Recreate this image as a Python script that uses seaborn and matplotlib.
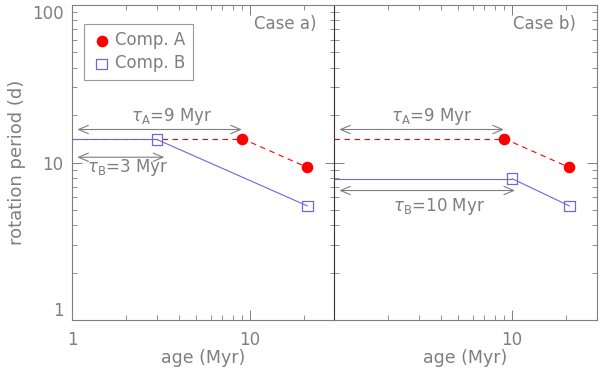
import matplotlib
matplotlib.use("Agg")
import matplotlib.pyplot as plt
import seaborn as sns
import pandas as pd
import numpy as np
from matplotlib.ticker import LogLocator, FixedLocator, NullFormatter, FixedFormatter

sns.set_style("ticks")
plt.rcParams['font.family'] = ['DejaVu Sans']

# Data
cases = ["Case a)", "Case b)"]
age_A = [[9.0, 21.0], [9.0, 21.0]]
period_A = [[14.2, 9.3], [14.2, 9.3]]
age_B = [[3.0, 21.0], [10.0, 21.0]]
period_B = [[14.0, 5.3], [7.9, 5.3]]
tau_A = [9, 9]
tau_B = [3, 10]
xticks = [1, 10]
yticks = [1, 10, 100]

GRAY = "#7f7f7f"
RED = "#ff0000"
BLUE = "#6a6ad8"
FS = 12

fig = plt.figure(figsize=(6.0, 3.74), dpi=100)
W, H = 600, 374
axes = []
for i in range(2):
    x0 = 72 if i == 0 else 334
    ax = fig.add_axes([x0 / W, 1 - 320 / H, 263 / W, 315 / H])
    axes.append(ax)

for i, ax in enumerate(axes):
    ax.set_xscale("log")
    ax.set_yscale("log")
    dA = pd.DataFrame({"age": age_A[i], "period": period_A[i]})
    dB = pd.DataFrame({"age": age_B[i], "period": period_B[i]})
    # horizontal tracks from the left edge
    ax.hlines(dA["period"].iloc[0], 1, dA["age"].iloc[0], colors=RED, lw=0.8,
              linestyles=(0, (5, 4)), zorder=3)
    ax.hlines(dB["period"].iloc[0], 1, dB["age"].iloc[0], colors=BLUE, lw=0.8, zorder=3)
    sns.lineplot(data=dA, x="age", y="period", ax=ax, color=RED, lw=0.8,
                 linestyle=(0, (5, 4)), sort=False)
    sns.lineplot(data=dB, x="age", y="period", ax=ax, color=BLUE, lw=0.8, sort=False)
    sns.scatterplot(data=dA, x="age", y="period", ax=ax, color=RED, s=70,
                    marker="o", edgecolor=RED, linewidth=0, zorder=5,
                    label="Comp. A" if i == 0 else None)
    ax.scatter(dB["age"], dB["period"], s=60, marker="s", facecolor="none",
               edgecolor=BLUE, linewidth=0.9, zorder=5,
               label="Comp. B" if i == 0 else None)

    ax.set_xlim(1, 30)
    ax.set_ylim(1, 100)

    # arrows
    arrow_kw = dict(arrowstyle="<->,head_length=0.7,head_width=0.3", color=GRAY, lw=0.8,
                    shrinkA=0, shrinkB=0)
    ya = 16.2
    ax.annotate("", xy=(tau_A[i] * 1.0, ya), xytext=(1.07, ya), arrowprops=arrow_kw)
    ax.text(3.65 if i == 0 else 3.55, 19.6,
            r"$\tau_{\mathrm{A}}$=" + f"{tau_A[i]} Myr", color=GRAY,
            fontsize=FS, ha="center", va="center")
    if i == 0:
        yb = 10.8
        ax.annotate("", xy=(3.3, yb), xytext=(1.07, yb), arrowprops=arrow_kw)
        ax.text(2.06, 9.3, r"$\tau_{\mathrm{B}}$=" + f"{tau_B[i]} Myr", color=GRAY,
                fontsize=FS, ha="center", va="center")
    else:
        yb = 6.64
        ax.annotate("", xy=(10.4, yb), xytext=(1.07, yb), arrowprops=arrow_kw)
        ax.text(3.9, 5.25, r"$\tau_{\mathrm{B}}$=" + f"{tau_B[i]} Myr", color=GRAY,
                fontsize=FS, ha="center", va="center")

    ax.text(0.93 if i == 0 else 0.92, 0.94, cases[i], transform=ax.transAxes,
            color=GRAY, fontsize=FS, ha="right", va="center")

    ax.xaxis.set_major_locator(FixedLocator(xticks))
    ax.xaxis.set_minor_locator(LogLocator(base=10, subs=np.arange(2, 10)))
    ax.xaxis.set_minor_formatter(NullFormatter())
    ax.yaxis.set_major_locator(FixedLocator(yticks))
    ax.yaxis.set_minor_locator(LogLocator(base=10, subs=np.arange(2, 10)))
    ax.yaxis.set_minor_formatter(NullFormatter())
    ax.tick_params(which="both", direction="in", top=True, right=True,
                   colors=GRAY, labelcolor=GRAY, labelsize=FS)
    ax.tick_params(which="major", length=7, width=0.7)
    ax.tick_params(axis="x", which="major", pad=8)
    ax.tick_params(axis="y", which="major", pad=6)
    ax.tick_params(which="minor", length=3.5, width=0.6)
    for s in ax.spines.values():
        s.set_color(GRAY)
        s.set_linewidth(0.8)
    ax.set_xlabel("age (Myr)", color=GRAY, fontsize=12.5, labelpad=0)
    if i == 0:
        ax.xaxis.set_major_formatter(FixedFormatter(["1", "10"]))
        ax.yaxis.set_major_formatter(FixedFormatter(["1", "10", "100"]))
        ax.set_ylabel("rotation period (d)", color=GRAY, fontsize=13, labelpad=4)
    else:
        ax.xaxis.set_major_formatter(FixedFormatter(["", "10"]))
        ax.set_yticklabels([])
        ax.set_ylabel("")
        ax.spines["left"].set_color("#333333")

# keep the top label inside the figure, as in the reference
for lab, t in zip(axes[0].yaxis.get_majorticklabels(), yticks):
    if t == 100:
        lab.set_va("top")
    elif t == 1:
        lab.set_va("bottom")

leg = axes[0].legend(loc="upper left", bbox_to_anchor=(0.046, 0.94), frameon=True,
                     fancybox=False, edgecolor=GRAY, fontsize=FS, handletextpad=0.2,
                     borderpad=0.45, labelspacing=0.3, handlelength=1.2, borderaxespad=0)
for t in leg.get_texts():
    t.set_color(GRAY)
leg.get_frame().set_linewidth(0.8)

fig.savefig("out.png", dpi=100)
